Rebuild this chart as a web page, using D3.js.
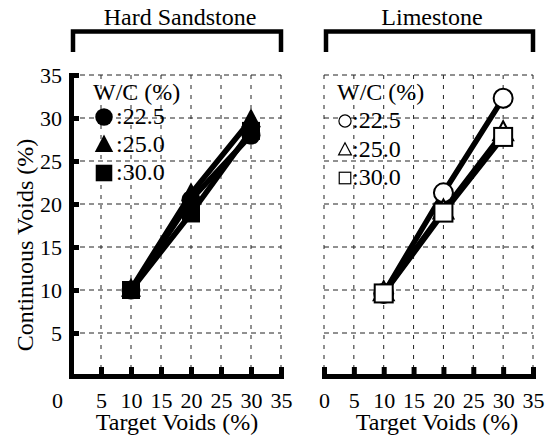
<!DOCTYPE html>
<html>
<head>
<meta charset="utf-8">
<script src="https://cdn.jsdelivr.net/npm/d3@7"></script>
<style>
  body { margin: 0; background: #fff; }
  svg { display: block; }
</style>
</head>
<body>
<div id="container"></div>
<script>
// data
const targetVoids = [10, 20, 30];
const wcLabels = [':22.5', ':25.0', ':30.0'];
const sandstone22 = [10.0, 20.5, 28.0];
const sandstone25 = [10.1, 21.2, 29.8];
const sandstone30 = [10.0, 18.9, 28.5];
const limestone22 = [9.6, 21.3, 32.3];
const limestone25 = [9.7, 19.2, 28.3];
const limestone30 = [9.6, 19.0, 27.8];
const xTicks = [0, 5, 10, 15, 20, 25, 30, 35];
const yTicks = [5, 10, 15, 20, 25, 30, 35];

const width = 556, height = 439;
const FONT = 24;
const TICKFONT = 22;
const SERIF = '"Liberation Serif", "Times New Roman", serif';

const svg = d3.select('#container')
  .append('svg')
  .attr('width', width)
  .attr('height', height);

function label(g, x, y, str, anchor) {
  return g.append('text').attr('x', x).attr('y', y)
    .attr('text-anchor', anchor || 'start')
    .style('font-family', SERIF).style('font-size', FONT + 'px')
    .attr('fill', '#000')
    .text(str);
}

const y = d3.scaleLinear().domain([0, 35]).range([376, 75]);

const panels = [
  { title: 'Hard Sandstone', x0: 71, x1: 281, filled: true, titleX: 180, labelX: 177,
    series: [sandstone22, sandstone25, sandstone30],
    legendX: 93, legendY: 100, markX: 104, textX: 116, rowY: [117, 145, 173], textDy: 7, legSize: 0.92 },
  { title: 'Limestone', x0: 324, x1: 533, filled: false, titleX: 432, labelX: 437,
    series: [limestone22, limestone25, limestone30],
    legendX: 337, legendY: 100, markX: 345, textX: 352, rowY: [121, 150, 178], textDy: 7, legSize: 0.64 }
];

const shapes = ['circle', 'triangle', 'square'];

function drawMarker(g, shape, cx, cy, s, filled, sw) {
  const fill = filled ? '#000' : '#fff';
  const strokeW = filled ? 0 : sw;
  if (shape === 'circle') {
    g.append('circle').attr('cx', cx).attr('cy', cy).attr('r', 9.5 * s)
      .attr('fill', fill).attr('stroke', '#000').attr('stroke-width', strokeW);
  } else if (shape === 'triangle') {
    const h = 19 * s, w = 20 * s;
    g.append('path')
      .attr('d', `M${cx},${cy - h * 0.6}L${cx + w / 2},${cy + h * 0.4}L${cx - w / 2},${cy + h * 0.4}Z`)
      .attr('fill', fill).attr('stroke', '#000').attr('stroke-width', strokeW);
  } else {
    const a = 18 * s;
    g.append('rect').attr('x', cx - a / 2).attr('y', cy - a / 2).attr('width', a).attr('height', a)
      .attr('fill', fill).attr('stroke', '#000').attr('stroke-width', strokeW);
  }
}

panels.forEach((p, pi) => {
  const x = d3.scaleLinear().domain([0, 35]).range([p.x0, p.x1]);
  const g = svg.append('g');

  // grid
  const vx = pi === 0 ? xTicks.filter(d => d > 0) : xTicks;
  g.selectAll('.vgrid').data(vx).join('line')
    .attr('x1', d => x(d)).attr('x2', d => x(d))
    .attr('y1', y(35)).attr('y2', y(0))
    .attr('stroke', '#222').attr('stroke-width', 1)
    .attr('stroke-dasharray', '4,6');
  g.selectAll('.hgrid').data(yTicks).join('line')
    .attr('x1', x(0)).attr('x2', x(35))
    .attr('y1', d => y(d)).attr('y2', d => y(d))
    .attr('stroke', '#222').attr('stroke-width', 1)
    .attr('stroke-dasharray', '5,4');

  // bracket + title
  g.append('path')
    .attr('d', `M${x(0) + 2},52V31.5H${x(35)}V52`)
    .attr('fill', 'none').attr('stroke', '#000').attr('stroke-width', 4.5);
  label(g, p.titleX, 25, p.title, 'middle');

  // x axis
  const xa = g.append('g').attr('transform', 'translate(0,376)')
    .call(d3.axisBottom(x).tickValues(xTicks).tickSize(-9).tickSizeOuter(0).tickPadding(16));
  xa.selectAll('.tick text').style('font-family', SERIF).style('font-size', TICKFONT + 'px');
  xa.select('.domain').attr('stroke-width', 5).attr('stroke-linecap', 'square');
  xa.selectAll('.tick line').attr('stroke-width', 5);
  if (pi === 0) {
    xa.selectAll('.tick').filter(d => d === 0).select('text').attr('x', -14);
    xa.selectAll('.tick').filter(d => d === 0).select('line').remove();
  }

  // y axis only on the first panel
  if (pi === 0) {
    const ya = g.append('g').attr('transform', `translate(${x(0)},0)`)
      .call(d3.axisLeft(y).tickValues(yTicks).tickSize(-8).tickSizeOuter(0).tickPadding(9));
    ya.selectAll('.tick text').style('font-family', SERIF).style('font-size', TICKFONT + 'px');
    ya.select('.domain').attr('stroke-width', 5).attr('stroke-linecap', 'square');
    ya.selectAll('.tick line').attr('stroke-width', 5);
  }

  label(g, p.labelX, 430, 'Target Voids (%)', 'middle');

  // lines
  const line = d3.line().x((d, i) => x(targetVoids[i])).y(d => y(d));
  p.series.forEach(s => {
    g.append('path').datum(s).attr('d', line)
      .attr('fill', 'none').attr('stroke', '#000').attr('stroke-width', 5.5)
      .attr('stroke-linejoin', 'round');
  });
  // markers
  p.series.forEach((s, si) => {
    s.forEach((v, i) => drawMarker(g, shapes[si], x(targetVoids[i]), y(v), 1, p.filled, 2));
  });

  // legend
  label(g, p.legendX, p.legendY, 'W/C (%)');
  wcLabels.forEach((lab, i) => {
    drawMarker(g, shapes[i], p.markX, p.rowY[i], p.legSize, p.filled, 1.2);
    label(g, p.textX, p.rowY[i] + p.textDy, lab);
  });
});

svg.append('text')
  .attr('transform', 'translate(33,245) rotate(-90)')
  .attr('text-anchor', 'middle')
  .style('font-family', SERIF).style('font-size', FONT + 'px')
  .text('Continuous Voids (%)');
</script>
</body>
</html>
